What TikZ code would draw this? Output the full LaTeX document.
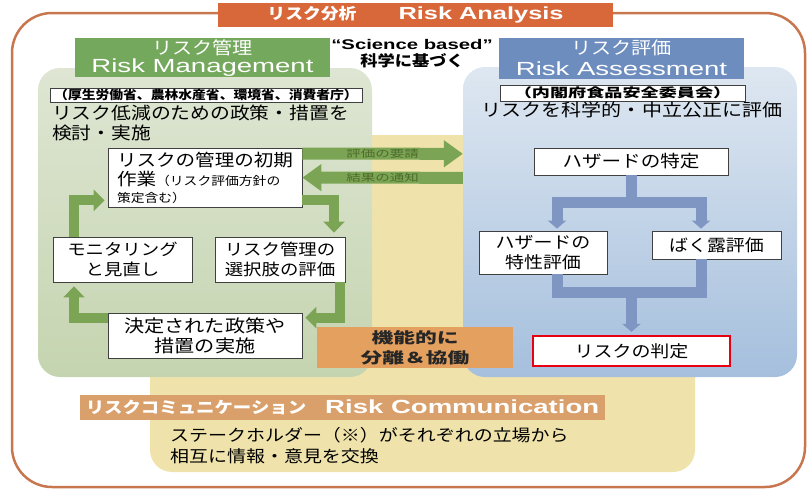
\documentclass[tikz,border=0pt]{standalone}
\usepackage{fontspec}
\usetikzlibrary{arrows.meta,calc}
\newfontfamily\jp[FakeStretch=1.15]{Noto Sans CJK JP}
\newfontfamily\jpw[FakeStretch=1.45]{Noto Sans CJK JP}
\newfontfamily\en[FakeStretch=1.45]{Liberation Sans}
\definecolor{frameC}{HTML}{C8764E}
\definecolor{titleC}{HTML}{D8683A}
\definecolor{beigeC}{HTML}{EFE3AB}
\definecolor{gtopC}{HTML}{DEE6D3}
\definecolor{gbotC}{HTML}{C5D4B0}
\definecolor{btopC}{HTML}{DEE7F1}
\definecolor{bbotC}{HTML}{A5BFDD}
\definecolor{ghdrC}{HTML}{74A85C}
\definecolor{bhdrC}{HTML}{6D8DBF}
\definecolor{garC}{HTML}{7BA555}
\definecolor{barC}{HTML}{7F96C3}
\definecolor{oboxC}{HTML}{E3A05E}
\definecolor{commC}{HTML}{D9A06B}
\definecolor{lblC}{HTML}{4E6B2A}
\definecolor{redC}{HTML}{E60012}
\begin{document}
\begin{tikzpicture}[x=1pt,y=-1pt,
  panel/.style={draw=none, rounded corners=22pt, inner sep=0pt},
  hdr/.style={draw=none, inner sep=0pt},
  wbox/.style={draw=black!75, line width=0.8pt, fill=white, inner sep=0pt, align=center},
  btxt/.style={font=\jp\fontsize{17}{20}\selectfont},
  plain/.style={inner sep=0pt},
  garrow/.style={draw=garC, line width=10pt, -{Triangle[width=21pt,length=11pt]}},
  warrow/.style={draw=garC, line width=12pt, -{Triangle[width=26pt,length=19pt]}},
  bline/.style={draw=barC, line width=11pt},
  barrow/.style={draw=barC, line width=11pt, -{Triangle[width=18pt,length=8pt]}},
  lbl/.style={inner sep=0pt, text=lblC, font=\jpw\fontsize{10}{12}\selectfont}
]
\useasboundingbox (0,0) rectangle (809,493);

% outer frame
\draw[line width=2.5pt, draw=frameC, rounded corners=40pt] (12,13) rectangle (805,487);
% title banner
\node[fill=titleC, minimum width=395pt, minimum height=24pt, inner sep=0pt, text=white, font=\bfseries] (title) at (415.5,15)
  {{\jp\fontsize{15.5}{18}\selectfont リスク分析}\hspace{42pt}{\en\fontsize{17.5}{20}\selectfont Risk Analysis}};

% background panels
\node[panel, fill=beigeC, minimum width=545pt, minimum height=337pt] (beige) at (422.5,303.5) {};
\node[panel, top color=gtopC, bottom color=gbotC, minimum width=334pt, minimum height=309pt] (gpanel) at (205,222.5) {};
\node[panel, top color=btopC, bottom color=bbotC, minimum width=334pt, minimum height=310pt] (bpanel) at (630,222) {};

% headers
\node[hdr, fill=ghdrC, minimum width=255pt, minimum height=39pt] (ghdr) at (202.5,57.5) {};
\node[plain, text=white, font=\jp\fontsize{17.5}{20}\selectfont] (ghdrj) at (202.5,47.5) {リスク管理};
\node[plain, text=white, font=\en\fontsize{19}{22}\selectfont] (ghdre) at (202.5,67.5) {Risk Management};
\node[hdr, fill=bhdrC, minimum width=245pt, minimum height=41pt] (bhdr) at (621.5,58.5) {};
\node[plain, text=white, font=\jp\fontsize{17.5}{20}\selectfont] (bhdrj) at (621.5,48) {リスク評価};
\node[plain, text=white, font=\en\fontsize{19}{22}\selectfont] (bhdre) at (621.5,68.5) {Risk Assessment};

% science based
\node[plain, font=\en\bfseries\fontsize{14}{16}\selectfont] (sci) at (412,44) {“Science based”};
\node[plain, font=\jp\bfseries\fontsize{15}{17}\selectfont] (kagaku) at (412,61) {科学に基づく};

% agency boxes
\node[wbox, minimum width=312pt, minimum height=14pt, font=\jp\bfseries\fontsize{12}{14}\selectfont] (minis) at (206,95)
  {（厚生労働省、農林水産省、環境省、消費者庁）};
\node[wbox, minimum width=245pt, minimum height=16pt, font=\jpw\bfseries\fontsize{12.5}{14}\selectfont] (inst) at (622.5,93)
  {（内閣府食品安全委員会）};

% descriptive texts
\node[plain, anchor=west, font=\jp\fontsize{17.2}{20}\selectfont] (gtext1) at (52,113) {リスク低減のための政策・措置を};
\node[plain, anchor=west, font=\jp\fontsize{17.2}{20}\selectfont] (gtext2) at (52,133) {検討・実施};
\node[plain, font=\jp\fontsize{17.4}{20}\selectfont] (btext) at (632,110) {リスクを科学的・中立公正に評価};

% management boxes
\node[wbox, align=left, minimum width=194pt, minimum height=59pt, btxt] (init) at (205,177.5)
  {リスクの管理の初期\\[-1pt]作業{\fontsize{12}{14}\selectfont （リスク評価方針の}\\[-3pt]{\fontsize{12}{14}\selectfont 策定含む）}};
\node[wbox, minimum width=139pt, minimum height=45pt, font=\jp\fontsize{16}{20}\selectfont] (monitor) at (122.5,259.5) {モニタリング\\と見直し};
\node[wbox, minimum width=130pt, minimum height=45pt, font=\jp\fontsize{16}{20}\selectfont] (choice) at (280,259.5) {リスク管理の\\選択肢の評価};
\node[wbox, minimum width=194pt, minimum height=45pt, font=\jp\fontsize{17.5}{20}\selectfont] (decided) at (205,335.5) {決定された政策や\\措置の実施};

% assessment boxes
\node[wbox, minimum width=194pt, minimum height=27pt, btxt] (hazard) at (631,161.5) {ハザードの特定};
\node[wbox, minimum width=128pt, minimum height=43pt, font=\jp\fontsize{16.5}{20}\selectfont] (hchar) at (543,252.5) {ハザードの\\特性評価};
\node[wbox, minimum width=129pt, minimum height=28pt, font=\jp\fontsize{16.5}{20}\selectfont] (expo) at (716.5,245) {ばく露評価};
\node[wbox, draw=redC, line width=2.2pt, minimum width=197pt, minimum height=30pt, font=\jp\fontsize{16.5}{20}\selectfont] (judge) at (631.5,351) {リスクの判定};

% management cycle arrows
\draw[garrow] ($(init.south east)+(0,-7)$) -| ($(choice.north)+(54,-4)$);
\draw[garrow] ($(choice.south)+(60,0)$) |- ($(decided.north east)+(3,5)$);
\draw[garrow] ($(decided.north west)+(0,5)$) -| ($(monitor.south)+(-48.5,4)$);
\draw[garrow] ($(monitor.north)+(-48.5,0)$) |- ($(init.south west)+(-3,-7)$);

% request / result arrows
\draw[warrow] ($(init.north east)+(0,6)$) -- ($(bpanel.north west)+(0,87)$) node[midway, lbl] (req) {評価の要請};
\draw[warrow] ($(bpanel.north west)+(0,111)$) -- ($(init.north east)+(0,30)$) node[midway, lbl] (res) {結果の通知};

% assessment tree
\coordinate (jtop) at ($(hazard.south)+(0,27)$);
\coordinate (jbot) at ($(judge.north)+(0,-42)$);
\draw[bline] (hazard.south) -- (jtop);
\draw[barrow] (jtop) -| ($(hchar.north)+(14,-2)$);
\draw[barrow] (jtop) -| ($(expo.north)+(-15.5,-2)$);
\draw[bline] ($(hchar.south)+(14,0)$) |- (jbot);
\draw[bline] ($(expo.south)+(-15.5,0)$) |- (jbot);
\draw[barrow] (jbot) -- ($(judge.north)+(0,-3)$);

% functional separation box
\node[fill=oboxC, minimum width=196pt, minimum height=41pt, inner sep=0pt, align=center, font=\jpw\bfseries\fontsize{15}{20}\selectfont, text=black!85] (sep) at (415,347.5)
  {機能的に\\分離＆協働};

% risk communication
\node[fill=commC, minimum width=525pt, minimum height=25pt, inner sep=0pt, text=white, font=\bfseries] (comm) at (342.5,407.5)
  {{\jp\fontsize{16}{18}\selectfont リスクコミュニケーション}\hspace{19pt}{\en\fontsize{19}{21}\selectfont Risk Communication}};
\node[plain, anchor=west, align=left, font=\jp\fontsize{16.5}{21}\selectfont] (commtext) at (170,445.5)
  {ステークホルダー（※）がそれぞれの立場から\\相互に情報・意見を交換};
\end{tikzpicture}
\end{document}
